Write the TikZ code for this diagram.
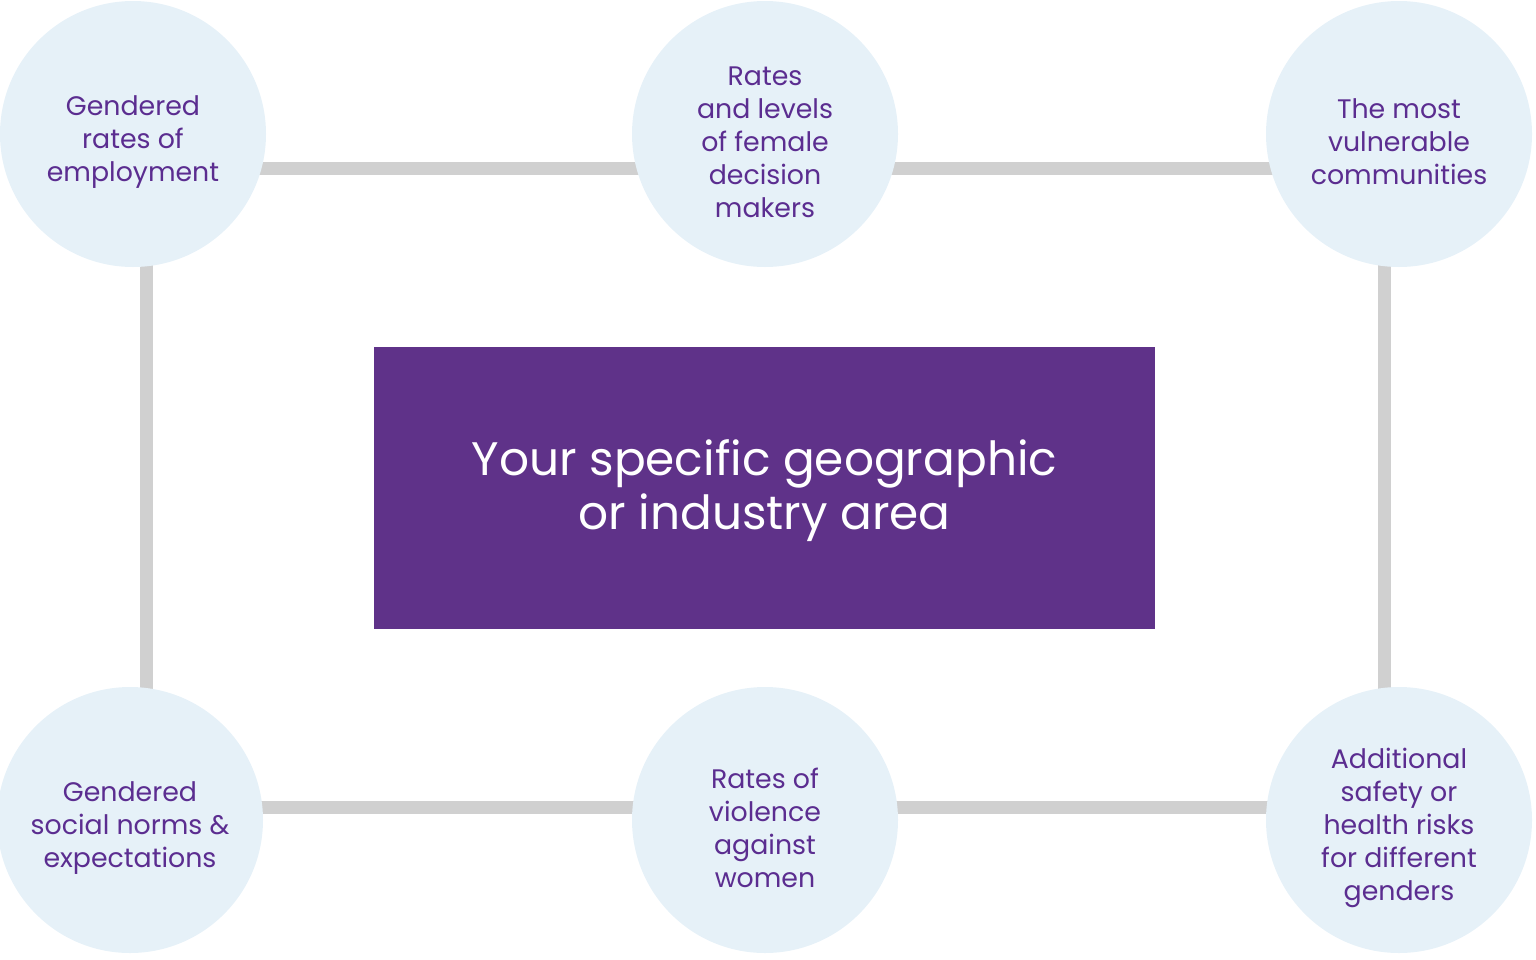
\documentclass[tikz,border=0pt]{standalone}
\usepackage{fontspec}
\setmainfont{Poppins}
\usetikzlibrary{backgrounds}
\definecolor{circfill}{HTML}{E6F1F8}
\definecolor{linegray}{HTML}{D0D0D0}
\definecolor{boxpurple}{HTML}{5F3289}
\definecolor{txtpurple}{HTML}{5B2D90}
\begin{document}
\begin{tikzpicture}[x=0.5pt,y=-0.5pt,
  circ/.style={circle,fill=circfill,minimum size=133pt,inner sep=0pt},
  ctext/.style={align=center,inner sep=0pt,text=txtpurple,font=\fontsize{13.4}{16.5}\selectfont},
  conn/.style={draw=linegray,line width=6.5pt},
  centerbox/.style={fill=boxpurple,minimum width=390.5pt,minimum height=141pt,inner sep=0pt},
  ctitle/.style={align=center,inner sep=0pt,text=white,font=\fontsize{23.5}{27}\selectfont}]
\useasboundingbox (0,0) rectangle (1536,959);
\node[circ] (tl) at (133,134) {};
\node[circ] (tm) at (765,134) {};
\node[circ] (tr) at (1399,134) {};
\node[circ] (bl) at (130,820) {};
\node[circ] (bm) at (765,820) {};
\node[circ] (br) at (1399,820) {};
\node[ctext] (tlt) at ([yshift=-4pt]tl.center) {Gendered\\rates of\\employment};
\node[ctext] (tmt) at ([yshift=-4pt]tm.center) {Rates\\and levels\\of female\\decision\\makers};
\node[ctext] (trt) at ([yshift=-4pt]tr.center) {The most\\vulnerable\\communities};
\node[ctext] (blt) at ([yshift=-4pt]bl.center) {Gendered\\social norms \&\\expectations};
\node[ctext] (bmt) at ([yshift=-4pt]bm.center) {Rates of\\violence\\against\\women};
\node[ctext] (brt) at ([yshift=-4pt]br.center) {Additional\\safety or\\health risks\\for different\\genders};
\node[centerbox] (c) at (764.5,488) {};
\node[ctitle] (ct) at ([yshift=-1.5pt]c.center) {Your specific geographic\\or industry area};
\coordinate (ytop) at (0,168.5);
\coordinate (ybot) at (0,807);
\coordinate (xl) at (146,0);
\coordinate (xr) at (1384,0);
\begin{scope}[on background layer]
\draw[conn] (tl |- ytop) -- (tm |- ytop);
\draw[conn] (tm |- ytop) -- (tr |- ytop);
\draw[conn] (bl |- ybot) -- (bm |- ybot);
\draw[conn] (bm |- ybot) -- (br |- ybot);
\draw[conn] (xl |- tl) -- (xl |- bl);
\draw[conn] (xr |- tr) -- (xr |- br);
\end{scope}
\end{tikzpicture}
\end{document}
